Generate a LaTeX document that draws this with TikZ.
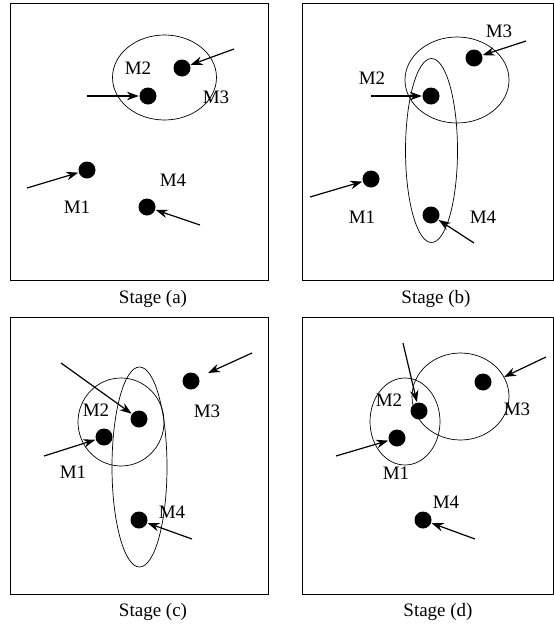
\documentclass[tikz,border=0pt]{standalone}
\usepackage{fontspec}
\setmainfont{Liberation Serif}
\usetikzlibrary{arrows.meta}

\begin{document}
\begin{tikzpicture}[
            x = 1pt, y = -1pt, % origin top left
            > = {Stealth[length=12pt, width=8.5pt]}, % arrow head style
            line width = 1.2pt % line style
        ]

        \tikzstyle{dot}=[
            circle,
            fill = black,
            inner sep = 0pt,
            minimum size = 17pt
        ]
        \tikzstyle{lbl}=[font=\fontsize{19}{19}\selectfont, inner sep=0pt]
        \tikzstyle{stagetext}=[font=\fontsize{19}{19}\selectfont, inner sep=0pt]
        \tikzstyle{frame}=[draw, line width=1pt]
        \tikzstyle{ring}=[draw, line width=0.7pt]

        \useasboundingbox (0,0) rectangle (554,627);

        % Stage (a)
        \draw[frame] (10,3) rectangle (268,280);
        \node[stagetext] (capa) at (153,299) {Stage (a)};
        \draw[ring] (164.5,77.5) ellipse (52pt and 42.5pt);
        \node[dot] (a1) at (87,170) {};
        \node[dot] (a2) at (148,96) {};
        \node[dot] (a3) at (182,68) {};
        \node[dot] (a4) at (147,207) {};
        \node[lbl] (la1) at (77,207) {M1};
        \node[lbl] (la2) at (138,68) {M2};
        \node[lbl] (la3) at (216,97) {M3};
        \node[lbl] (la4) at (173,180) {M4};
        \coordinate (sa1) at (27,188);
        \coordinate (sa2) at (87,96);
        \coordinate (sa3) at (234,49);
        \coordinate (sa4) at (200,225);
        \draw[->] (sa1) -- (a1);
        \draw[->] (sa2) -- (a2);
        \draw[->] (sa3) -- (a3);
        \draw[->] (sa4) -- (a4);

        % Stage (b)
        \draw[frame] (302,3) rectangle (553,280);
        \node[stagetext] (capb) at (436,299) {Stage (b)};
        \draw[ring] (457,80) ellipse (52pt and 43pt);
        \draw[ring] (431.5,150.5) ellipse (26pt and 92pt);
        \node[dot] (b1) at (371,179) {};
        \node[dot] (b2) at (431,96) {};
        \node[dot] (b3) at (474,58) {};
        \node[dot] (b4) at (431,215) {};
        \node[lbl] (lb1) at (362,217) {M1};
        \node[lbl] (lb2) at (372,78) {M2};
        \node[lbl] (lb3) at (499,31) {M3};
        \node[lbl] (lb4) at (483,217) {M4};
        \coordinate (sb1) at (310,197);
        \coordinate (sb2) at (371,96);
        \coordinate (sb3) at (526,41);
        \coordinate (sb4) at (474,243);
        \draw[->] (sb1) -- (b1);
        \draw[->] (sb2) -- (b2);
        \draw[->] (sb3) -- (b3);
        \draw[->] (sb4) -- (b4);

        % Stage (c)
        \draw[frame] (10,317) rectangle (268,594);
        \node[stagetext] (capc) at (153,612) {Stage (c)};
        \draw[ring] (121,422) ellipse (43pt and 44pt);
        \draw[ring] (139.5,467) ellipse (27.5pt and 100pt);
        \node[dot] (c1) at (104,437) {};
        \node[dot] (c2) at (139,419) {};
        \node[dot] (c3) at (191,381) {};
        \node[dot] (c4) at (139,520) {};
        \node[lbl] (lc1) at (73,472) {M1};
        \node[lbl] (lc2) at (96,410) {M2};
        \node[lbl] (lc3) at (207,411) {M3};
        \node[lbl] (lc4) at (172,512) {M4};
        \coordinate (sc1) at (44,456);
        \coordinate (sc2) at (61,363);
        \coordinate (sc3) at (252,353);
        \coordinate (ec3) at (208,373);
        \coordinate (sc4) at (192,539);
        \draw[->] (sc1) -- (c1);
        \draw[->] (sc2) -- (c2);
        \draw[->] (sc3) -- (ec3);
        \draw[->] (sc4) -- (c4);

        % Stage (d)
        \draw[frame] (302,317) rectangle (553,594);
        \node[stagetext] (capd) at (438,612) {Stage (d)};
        \draw[ring] (405,421.5) ellipse (35pt and 43.5pt);
        \draw[ring] (460.5,396.5) ellipse (48.5pt and 43.5pt);
        \node[dot] (d1) at (397,438) {};
        \node[dot] (d2) at (419,411) {};
        \node[dot] (d3) at (483,382) {};
        \node[dot] (d4) at (423,520) {};
        \node[lbl] (ld1) at (396,473) {M1};
        \node[lbl] (ld2) at (389,400) {M2};
        \node[lbl] (ld3) at (517,409) {M3};
        \node[lbl] (ld4) at (446,502) {M4};
        \coordinate (sd1) at (336,456);
        \coordinate (sd2) at (403,343);
        \coordinate (sd3) at (546,357);
        \coordinate (ed3) at (504,377);
        \coordinate (sd4) at (475,539);
        \draw[->] (sd1) -- (d1);
        \draw[->] (sd2) -- (d2);
        \draw[->] (sd3) -- (ed3);
        \draw[->] (sd4) -- (d4);
    \end{tikzpicture}
\end{document}
